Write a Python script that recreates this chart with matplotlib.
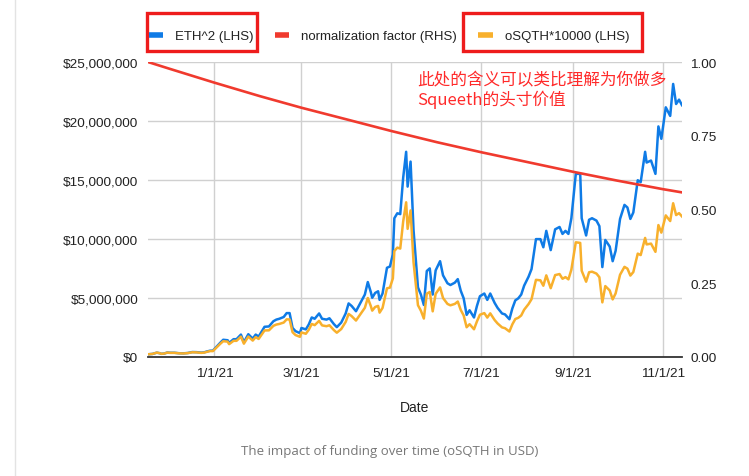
import matplotlib
matplotlib.use('Agg')
import matplotlib.pyplot as plt
from matplotlib.patches import Rectangle
from matplotlib.lines import Line2D
from matplotlib.ticker import FuncFormatter
import pandas as pd

# ---- data ----
dates = [
    '2020-11-17', '2020-11-20', '2020-11-23', '2020-11-25', '2020-11-26', '2020-11-28', '2020-11-30',
    '2020-12-02', '2020-12-05', '2020-12-08', '2020-12-11', '2020-12-14', '2020-12-17', '2020-12-20',
    '2020-12-23', '2020-12-25', '2020-12-27', '2020-12-29', '2020-12-31',
    '2021-01-03', '2021-01-05', '2021-01-07', '2021-01-10', '2021-01-11', '2021-01-14', '2021-01-16',
    '2021-01-19', '2021-01-21', '2021-01-24', '2021-01-27', '2021-01-29', '2021-01-31',
    '2021-02-04', '2021-02-07', '2021-02-10', '2021-02-12', '2021-02-14', '2021-02-17', '2021-02-19',
    '2021-02-21', '2021-02-23', '2021-02-25', '2021-02-28',
    '2021-03-01', '2021-03-04', '2021-03-06', '2021-03-08', '2021-03-10', '2021-03-13', '2021-03-15',
    '2021-03-18', '2021-03-20', '2021-03-23', '2021-03-25', '2021-03-28', '2021-03-31',
    '2021-04-02', '2021-04-04', '2021-04-07', '2021-04-10', '2021-04-13', '2021-04-15', '2021-04-17',
    '2021-04-18', '2021-04-20', '2021-04-22', '2021-04-23', '2021-04-25', '2021-04-28', '2021-04-30',
    '2021-05-02', '2021-05-03', '2021-05-05', '2021-05-07', '2021-05-09', '2021-05-11', '2021-05-12',
    '2021-05-14', '2021-05-16', '2021-05-19', '2021-05-21', '2021-05-23', '2021-05-25', '2021-05-27',
    '2021-05-29', '2021-05-31',
    '2021-06-03', '2021-06-05', '2021-06-08', '2021-06-10', '2021-06-13', '2021-06-15', '2021-06-17',
    '2021-06-19', '2021-06-21', '2021-06-23', '2021-06-26', '2021-06-28', '2021-06-30',
    '2021-07-03', '2021-07-05', '2021-07-07', '2021-07-10', '2021-07-12', '2021-07-15', '2021-07-17',
    '2021-07-20', '2021-07-22', '2021-07-24', '2021-07-26', '2021-07-28', '2021-07-30',
    '2021-08-02', '2021-08-04', '2021-08-07', '2021-08-10', '2021-08-12', '2021-08-14', '2021-08-17',
    '2021-08-20', '2021-08-23', '2021-08-25', '2021-08-27', '2021-08-29', '2021-08-31',
    '2021-09-03', '2021-09-06', '2021-09-07', '2021-09-10', '2021-09-12', '2021-09-14', '2021-09-17',
    '2021-09-19', '2021-09-21', '2021-09-23', '2021-09-26', '2021-09-28', '2021-09-30',
    '2021-10-03', '2021-10-06', '2021-10-08', '2021-10-10', '2021-10-12', '2021-10-15', '2021-10-17',
    '2021-10-20', '2021-10-21', '2021-10-24', '2021-10-27', '2021-10-29', '2021-10-31',
    '2021-11-03', '2021-11-06', '2021-11-08', '2021-11-10', '2021-11-12', '2021-11-14',
]

# ETH^2 in $ millions
eth_sq = [
    0.23, 0.26, 0.37, 0.32, 0.27, 0.29, 0.38,
    0.36, 0.36, 0.32, 0.31, 0.34, 0.42, 0.41,
    0.37, 0.39, 0.47, 0.53, 0.54,
    0.95, 1.21, 1.46, 1.42, 1.19, 1.51, 1.51,
    1.90, 1.25, 1.93, 1.56, 1.90, 1.73,
    2.56, 2.59, 3.03, 3.17, 3.24, 3.39, 3.72,
    3.72, 2.46, 2.19, 2.02,
    2.46, 2.34, 2.76, 3.35, 3.24, 3.69, 3.24,
    3.17, 3.28, 2.79, 2.53, 2.92, 3.69,
    4.54, 4.33, 3.88, 4.58, 5.29, 6.35, 5.52,
    5.02, 5.43, 5.57, 4.84, 5.38, 7.56, 7.67,
    8.70, 11.76, 12.18, 12.11, 15.21, 17.39, 14.44,
    16.56, 10.76, 5.90, 5.29, 4.41, 7.29, 7.51,
    5.29, 7.34,
    8.12, 6.92, 6.25, 6.10, 6.30, 6.60, 5.62,
    4.97, 3.57, 3.96, 3.35, 4.33, 5.15,
    5.38, 4.84, 5.38, 4.58, 4.16, 3.69, 3.61,
    3.20, 4.12, 4.80, 4.97, 5.29, 6.05,
    6.81, 7.45, 9.99, 9.99, 9.30, 10.69, 9.06,
    10.82, 11.02, 10.43, 10.69, 10.43, 11.76,
    15.52, 15.52, 11.76, 10.30, 11.63, 11.76, 11.56,
    11.09, 7.62, 9.92, 9.36, 8.12, 9.00,
    11.70, 12.89, 12.67, 11.70, 12.25, 14.98, 14.82,
    17.39, 16.48, 16.65, 15.52, 19.54, 18.49,
    21.16, 20.43, 23.14, 21.44, 21.81, 21.34,
]

# oSQTH*10000 in $ millions
osqth = [
    0.23, 0.26, 0.37, 0.32, 0.27, 0.29, 0.37,
    0.35, 0.35, 0.31, 0.30, 0.33, 0.40, 0.39,
    0.35, 0.37, 0.44, 0.50, 0.50,
    0.88, 1.12, 1.34, 1.30, 1.09, 1.37, 1.37,
    1.72, 1.13, 1.73, 1.39, 1.69, 1.53,
    2.25, 2.26, 2.64, 2.75, 2.80, 2.92, 3.19,
    3.18, 2.10, 1.86, 1.71,
    2.08, 1.97, 2.31, 2.80, 2.70, 3.06, 2.68,
    2.61, 2.69, 2.28, 2.06, 2.37, 2.97,
    3.65, 3.47, 3.09, 3.63, 4.17, 5.00, 4.33,
    3.93, 4.24, 4.33, 3.76, 4.16, 5.82, 5.88,
    6.66, 8.98, 9.27, 9.19, 11.50, 13.11, 10.86,
    12.42, 8.05, 4.39, 3.92, 3.26, 5.37, 5.51,
    3.87, 5.35,
    5.90, 5.00, 4.50, 4.38, 4.50, 4.70, 3.99,
    3.52, 2.52, 2.78, 2.35, 3.02, 3.58,
    3.72, 3.34, 3.70, 3.13, 2.84, 2.51, 2.44,
    2.16, 2.77, 3.22, 3.32, 3.52, 4.01,
    4.49, 4.90, 6.54, 6.50, 6.04, 6.92, 5.83,
    6.94, 7.03, 6.63, 6.77, 6.58, 7.40,
    9.72, 9.67, 7.31, 6.38, 7.18, 7.23, 7.07,
    6.76, 4.63, 6.01, 5.64, 4.88, 5.39,
    6.97, 7.64, 7.49, 6.90, 7.20, 8.76, 8.64,
    10.09, 9.54, 9.61, 8.91, 11.18, 10.54,
    12.00, 11.52, 13.03, 12.03, 12.19, 11.91,
]

norm_dates = ['2020-11-17', '2020-12-01', '2021-01-01', '2021-02-01', '2021-03-01', '2021-04-01',
              '2021-05-01', '2021-06-01', '2021-07-01', '2021-08-01', '2021-09-01', '2021-10-01',
              '2021-11-01', '2021-11-14']
norm_factor = [1.000, 0.978, 0.930, 0.884, 0.845, 0.805,
               0.766, 0.728, 0.694, 0.661, 0.628, 0.598,
               0.569, 0.558]

xtick_dates = ['2021-01-01', '2021-03-01', '2021-05-01', '2021-07-01', '2021-09-01', '2021-11-01']
xtick_labels = ['1/1/21', '3/1/21', '5/1/21', '7/1/21', '9/1/21', '11/1/21']

note_text = '此处的含义可以类比理解为你做多\nSqueeth的头寸价值'

# ---- colours ----
BLUE = '#0f7be6'
RED = '#f03a2e'
ORANGE = '#f8b02c'
GRID = '#d0d0d0'
TXT = '#222222'

plt.rcParams['font.family'] = ['Liberation Sans', 'DejaVu Sans']

d = pd.to_datetime(dates)
nd = pd.to_datetime(norm_dates)

fig = plt.figure(figsize=(7.49, 4.77), dpi=100)
ax = fig.add_axes([148 / 749, 1 - 358 / 477, (682 - 148) / 749, (358 - 63) / 477])

l1, = ax.plot(d, [v * 1e6 for v in eth_sq], color=BLUE, lw=1.8, label='ETH^2 (LHS)', zorder=3)
l3, = ax.plot(d, [v * 1e6 for v in osqth], color=ORANGE, lw=1.8, label='oSQTH*10000 (LHS)', zorder=4)

ax.set_xlim(pd.Timestamp('2020-11-17'), pd.Timestamp('2021-11-14'))
ax.set_ylim(0, 25e6)
ax.set_yticks([0, 5e6, 10e6, 15e6, 20e6, 25e6])
ax.yaxis.set_major_formatter(FuncFormatter(lambda v, p: '${:,.0f}'.format(v)))
ax.set_xticks(pd.to_datetime(xtick_dates))
ax.set_xticklabels(xtick_labels)
ax.grid(True, color=GRID, lw=1.0)
ax.set_axisbelow(True)
ax.tick_params(axis='both', length=0, labelsize=9.7, colors=TXT)
ax.tick_params(axis='y', pad=7)
ax.tick_params(axis='x', pad=7)
for s in ['top', 'left', 'right']:
    ax.spines[s].set_visible(False)
ax.spines['bottom'].set_color('#333333')
ax.spines['bottom'].set_linewidth(1.3)
ax.spines['bottom'].set_zorder(6)
ax.set_xlabel('Date', fontsize=10, color=TXT, labelpad=15)

ax2 = ax.twinx()
l2, = ax2.plot(nd, norm_factor, color=RED, lw=1.9, label='normalization factor (RHS)', zorder=5)
ax2.set_ylim(0, 1)
ax2.set_yticks([0, 0.25, 0.5, 0.75, 1.0])
ax2.yaxis.set_major_formatter(FuncFormatter(lambda v, p: '%.2f' % v))
ax2.tick_params(axis='y', length=0, labelsize=9.7, colors=TXT, pad=6)
for s in ax2.spines.values():
    s.set_visible(False)

# legend across the top
leg = fig.legend(handles=[l1, l2, l3], loc='center', bbox_to_anchor=(389 / 749, 1 - 37 / 477),
                 ncol=3, frameon=False, fontsize=9.5, handlelength=1.1, handletextpad=0.9,
                 columnspacing=1.6)
for h in leg.legend_handles:
    h.set_linewidth(4)
    h.set_solid_capstyle('butt')
for t in leg.get_texts():
    t.set_color(TXT)

# red highlight boxes around the two LHS series
fig.add_artist(Rectangle((147 / 749, 1 - 52 / 477), 110 / 749, 38 / 477, transform=fig.transFigure,
                         fill=False, ec='#ee1c1c', lw=2.4))
fig.add_artist(Rectangle((463 / 749, 1 - 52 / 477), 179 / 749, 38 / 477, transform=fig.transFigure,
                         fill=False, ec='#ee1c1c', lw=2.4))

# annotation
fig.text(417 / 749, 1 - 72 / 477, note_text, color='#ff2a2a', fontsize=12, va='top', ha='left',
         linespacing=1.15, family=['Noto Sans CJK SC', 'DejaVu Sans'])

# caption
fig.text(390 / 749, 1 - 452 / 477, 'The impact of funding over time (oSQTH in USD)', color='#777777',
         fontsize=9.5, ha='center', va='center', family=['Open Sans', 'DejaVu Sans'])

# page border line on the left
fig.add_artist(Line2D([15 / 749, 15 / 749], [0, 1], transform=fig.transFigure, color='#e3e3e3', lw=1))

fig.savefig('out.png', dpi=100)
